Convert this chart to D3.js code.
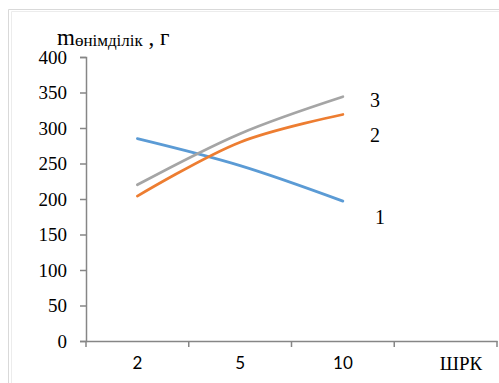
<!DOCTYPE html>
<html>
<head>
<meta charset="utf-8">
<script src="https://cdn.jsdelivr.net/npm/d3@7"></script>
<style>
  body { margin: 0; background: #fff; }
  svg { display: block; }
  .serif { font-family: "Liberation Serif", "DejaVu Serif", serif; }
  .sans { font-family: Lato, "Open Sans", sans-serif; }
</style>
</head>
<body>
<div id="chart"></div>
<script>
// data
const categories = ["2", "5", "10", ""]
const series1 = [285, 247, 197]
const series2 = [204, 280, 319]
const series3 = [220, 292, 344]
const yTicks = [0, 50, 100, 150, 200, 250, 300, 350, 400]
const seriesNames = ["1", "2", "3"]
const colors = ["#5B9BD5", "#ED7D31", "#A5A5A5"]

const width = 499
const height = 383
const margins = { left: 86, right: 2, top: 57, bottom: 42 }

const svg = d3
  .select("#chart")
  .append("svg")
  .attr("width", width)
  .attr("height", height)

// light outer frame
const frame = svg.append("g").attr("fill", "none")
frame.append("path").attr("d", `M8.5,${height} V9.5 H${width}`).attr("stroke", "#d9d9d9")
frame.append("path").attr("d", `M11.5,${height} V11.5 H${width}`).attr("stroke", "#ececec")

const xScale = d3
  .scaleBand()
  .domain(categories.map((c, i) => i))
  .range([margins.left, width - margins.right])

const yScale = d3
  .scaleLinear()
  .domain([0, 400])
  .range([height - margins.bottom, margins.top])

// axes
const xAxis = d3.axisBottom(xScale).tickSize(0).tickFormat((i) => categories[i])
const gx = svg
  .append("g")
  .attr("transform", `translate(0, ${yScale(0)})`)
  .call(xAxis)
gx.attr("font-family", null).attr("font-size", null)
gx.select(".domain").attr("stroke", "#868686").attr("stroke-width", 1.5)
gx.selectAll("text")
  .attr("dy", 0)
  .attr("y", 28)
  .attr("class", "sans")
  .style("font-size", "17px")
  .attr("fill", "#000")

// category boundary ticks
const bounds = categories.map((c, i) => xScale(i)).concat([xScale(categories.length - 1) + xScale.bandwidth()])
svg
  .append("g")
  .selectAll("line")
  .data(bounds)
  .enter()
  .append("line")
  .attr("x1", (d) => d)
  .attr("x2", (d) => d)
  .attr("y1", yScale(0))
  .attr("y2", yScale(0) + 6)
  .attr("stroke", "#868686")
  .attr("stroke-width", 1.5)

const yAxis = d3.axisLeft(yScale).tickValues(yTicks).tickSize(6).tickPadding(13)
const gy = svg.append("g").attr("transform", `translate(${margins.left}, 0)`).call(yAxis)
gy.attr("font-family", null).attr("font-size", null)
gy.select(".domain").attr("stroke", "#868686").attr("stroke-width", 1.5)
gy.selectAll("line").attr("stroke", "#868686").attr("stroke-width", 1.5)
gy.selectAll("text")
  .attr("class", "serif")
  .style("font-size", "19px")
  .attr("fill", "#000")

// lines
const line = d3
  .line()
  .x((d, i) => xScale(i) + xScale.bandwidth() / 2)
  .y((d) => yScale(d))
  .curve(d3.curveCatmullRom.alpha(0.5))

const allSeries = [series1, series2, series3]
svg
  .append("g")
  .selectAll("path")
  .data(allSeries)
  .enter()
  .append("path")
  .attr("d", (d) => line(d))
  .attr("fill", "none")
  .attr("stroke", (d, i) => colors[i])
  .attr("stroke-width", 2.75)
  .attr("stroke-linecap", "round")

// series numbers next to the line ends
const labelPos = [
  { x: 380, y: 217 },
  { x: 375, y: 135 },
  { x: 375, y: 100 },
]
svg
  .append("g")
  .selectAll("text")
  .data(seriesNames)
  .enter()
  .append("text")
  .attr("x", (d, i) => labelPos[i].x)
  .attr("y", (d, i) => labelPos[i].y)
  .attr("dy", "0.35em")
  .attr("text-anchor", "middle")
  .attr("class", "serif")
  .style("font-size", "20px")
  .text((d) => d)

// axis titles
const title = svg
  .append("text")
  .attr("x", 57)
  .attr("y", 45)
  .attr("class", "serif")
  .style("font-size", "23px")
title.append("tspan").text("m")
title.append("tspan").style("font-size", "17px").attr("dy", 1).text("өнімділік")
title.append("tspan").attr("dy", -1).text(" , г")

svg
  .append("text")
  .attr("x", 461)
  .attr("y", 370)
  .attr("text-anchor", "middle")
  .attr("class", "serif")
  .style("font-size", "19px")
  .text("ШРК")
</script>
</body>
</html>
